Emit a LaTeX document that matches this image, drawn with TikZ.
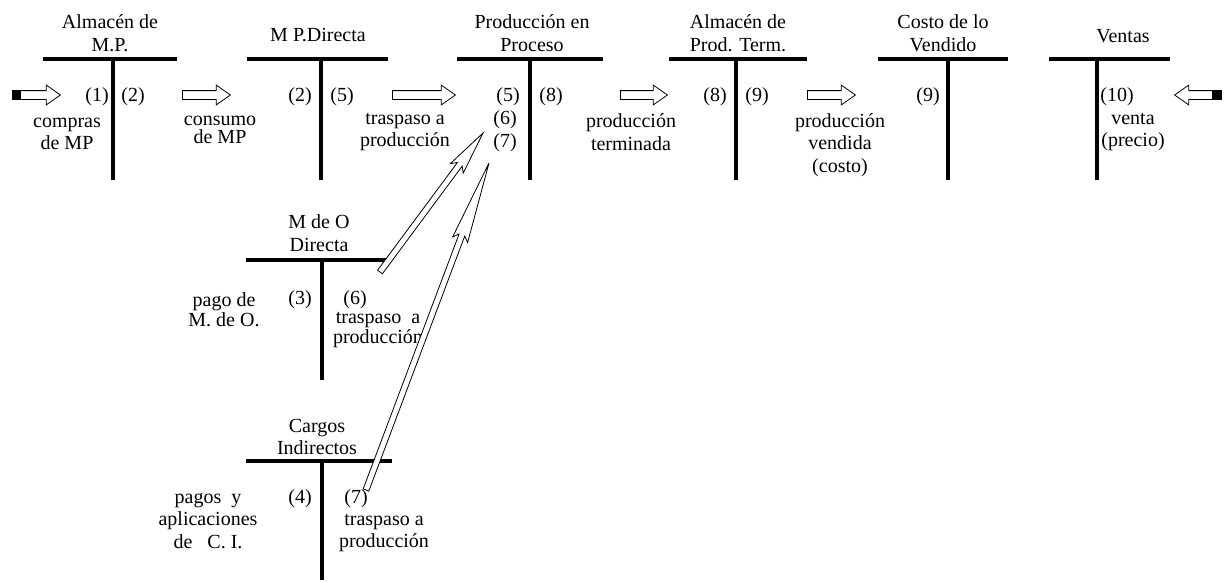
\documentclass[tikz,border=0pt]{standalone}
\usepackage{fontspec}
\setmainfont{Liberation Serif}
\usetikzlibrary{positioning,calc,shapes.arrows}
\tikzset{
    cuenta/.style={
        line width=4pt
    },
    titulo/.style={
        align=center,
        inner sep=0pt,
        font=\fontsize{20}{22.5}\selectfont
    },
    numero/.style={
        inner sep=0pt,
        font=\fontsize{20}{22.5}\selectfont
    },
    flecha/.style={
        single arrow,
        draw,
        fill=white,
        line width=0.8pt,
        inner sep=4pt,
        minimum width=19pt,
        single arrow head extend=5.5pt,
        single arrow tip angle=70
    },
    flechadiag/.style={
        draw,
        fill=white,
        line width=0.8pt,
        to path={
            -- ($(\tikztostart)!3pt!90:(\tikztotarget)$)
            -- ($(\tikztotarget)!#1pt-5pt!(\tikztostart)!3pt!-90:(\tikztostart)$)
            -- ($(\tikztotarget)!#1pt!(\tikztostart)!8pt!-90:(\tikztostart)$)
            -- (\tikztotarget)
            -- ($(\tikztotarget)!#1pt!(\tikztostart)!8pt!90:(\tikztostart)$)
            -- ($(\tikztotarget)!#1pt-5pt!(\tikztostart)!3pt!90:(\tikztostart)$)
            -- ($(\tikztostart)!3pt!-90:(\tikztotarget)$)
            -- cycle
        }
    },
    flechadiag/.default=44
}

\begin{document}
\begin{tikzpicture}[x=1pt,y=-1pt]
    \useasboundingbox (0,0) rectangle (1228,581);

    % Cuentas T de la fila superior
    \node[titulo] (almmp) at (110,33) {Almac\'en de\\M.P.};
    \draw[cuenta] (43,59) -- (177,59);
    \draw[cuenta] (113,59) -- (113,180);

    \node[titulo] (mpd) at (318,35) {M P.Directa};
    \draw[cuenta] (247,59) -- (388,59);
    \draw[cuenta] (321,59) -- (321,180);

    \node[titulo] (pep) at (532,33) {Producci\'on en\\Proceso};
    \draw[cuenta] (457,59) -- (603,59);
    \draw[cuenta] (530,59) -- (530,180);

    \node[titulo] (apt) at (738,33) {Almac\'en de\\Prod. Term.};
    \draw[cuenta] (669,59) -- (807,59);
    \draw[cuenta] (736,59) -- (736,180);

    \node[titulo] (cdv) at (943,33) {Costo de lo\\Vendido};
    \draw[cuenta] (878,59) -- (1008,59);
    \draw[cuenta] (948,59) -- (948,180);

    \node[titulo] (ven) at (1123,36) {Ventas};
    \draw[cuenta] (1049,59) -- (1170,59);
    \draw[cuenta] (1097,59) -- (1097,180);

    % Cuentas T de costos
    \node[titulo] (mod) at (319,233) {M de O\\Directa};
    \draw[cuenta] (246,260) -- (387,260);
    \draw[cuenta] (322,260) -- (322,380);

    \node[titulo] (ci) at (317,437) {Cargos\\Indirectos};
    \draw[cuenta] (246,461) -- (392,461);
    \draw[cuenta] (322,461) -- (322,580);

    % Asientos
    \node[numero] (n1) at (97,97) {(1)};
    \node[numero] (n2a) at (133,97) {(2)};
    \node[numero] (n2b) at (300,97) {(2)};
    \node[numero] (n5a) at (342,97) {(5)};
    \node[numero] (n5b) at (508,97) {(5)};
    \node[numero] (n6a) at (505,120) {(6)};
    \node[numero] (n7a) at (505,143) {(7)};
    \node[numero] (n8a) at (551,97) {(8)};
    \node[numero] (n8b) at (715,97) {(8)};
    \node[numero] (n9a) at (757,97) {(9)};
    \node[numero] (n9b) at (928,97) {(9)};
    \node[numero] (n10) at (1117,97) {(10)};
    \node[numero] (n3) at (300,300) {(3)};
    \node[numero] (n6b) at (355,300) {(6)};
    \node[numero] (n4) at (300,499) {(4)};
    \node[numero] (n7b) at (356,499) {(7)};

    % Leyendas
    \node[titulo] (compras) at (67,134) {compras\\de MP};
    \node[titulo, font=\fontsize{20}{18}\selectfont] (consumo) at (220,130) {consumo\\de MP};
    \node[titulo] (trasp1) at (405,132) {traspaso a\\producci\'on};
    \node[titulo] (term) at (631,132) {producci\'on\\terminada};
    \node[titulo] (vend) at (840,145) {producci\'on\\vendida\\(costo)};
    \node[titulo] (venta) at (1133,132) {venta\\(precio)};
    \node[titulo, font=\fontsize{20}{20}\selectfont] (pago) at (224,310) {pago de\\M. de O.};
    \node[titulo, font=\fontsize{20}{20}\selectfont] (trasp2) at (378,330) {traspaso\ \ a\\producci\'on};
    \node[titulo] (pagos) at (208,521) {pagos\ \ y\\aplicaciones\\de\ \ \ C. I.};
    \node[titulo] (trasp3) at (384,533) {traspaso a\\producci\'on};

    % Flechas de flujo
    \node[flecha, minimum height=40pt, anchor=tail] (fl1) at (20,95) {};
    \fill ([xshift=-8pt]fl1.before tail) rectangle (fl1.after tail);
    \node[flecha, minimum height=48pt, anchor=tail] (fl2) at (182,95) {};
    \node[flecha, minimum height=63pt, anchor=tail] (fl3) at (392,95) {};
    \node[flecha, minimum height=47pt, anchor=tail] (fl4) at (620,95) {};
    \node[flecha, minimum height=48pt, anchor=tail] (fl5) at (807,95) {};
    \node[flecha, minimum height=38pt, anchor=tail, shape border rotate=180] (fl6) at (1213,95) {};
    \fill ([xshift=9pt]fl6.before tail) rectangle (fl6.after tail);

    % Traspasos a produccion en proceso
    \coordinate (sal6) at (380,272);
    \coordinate (ent6) at (483,133);
    \coordinate (sal7) at (366,490);
    \coordinate (ent7) at (489,163);
    \draw[flechadiag] (sal6) to (ent6);
    \draw[flechadiag=82] (sal7) to (ent7);
\end{tikzpicture}
\end{document}
